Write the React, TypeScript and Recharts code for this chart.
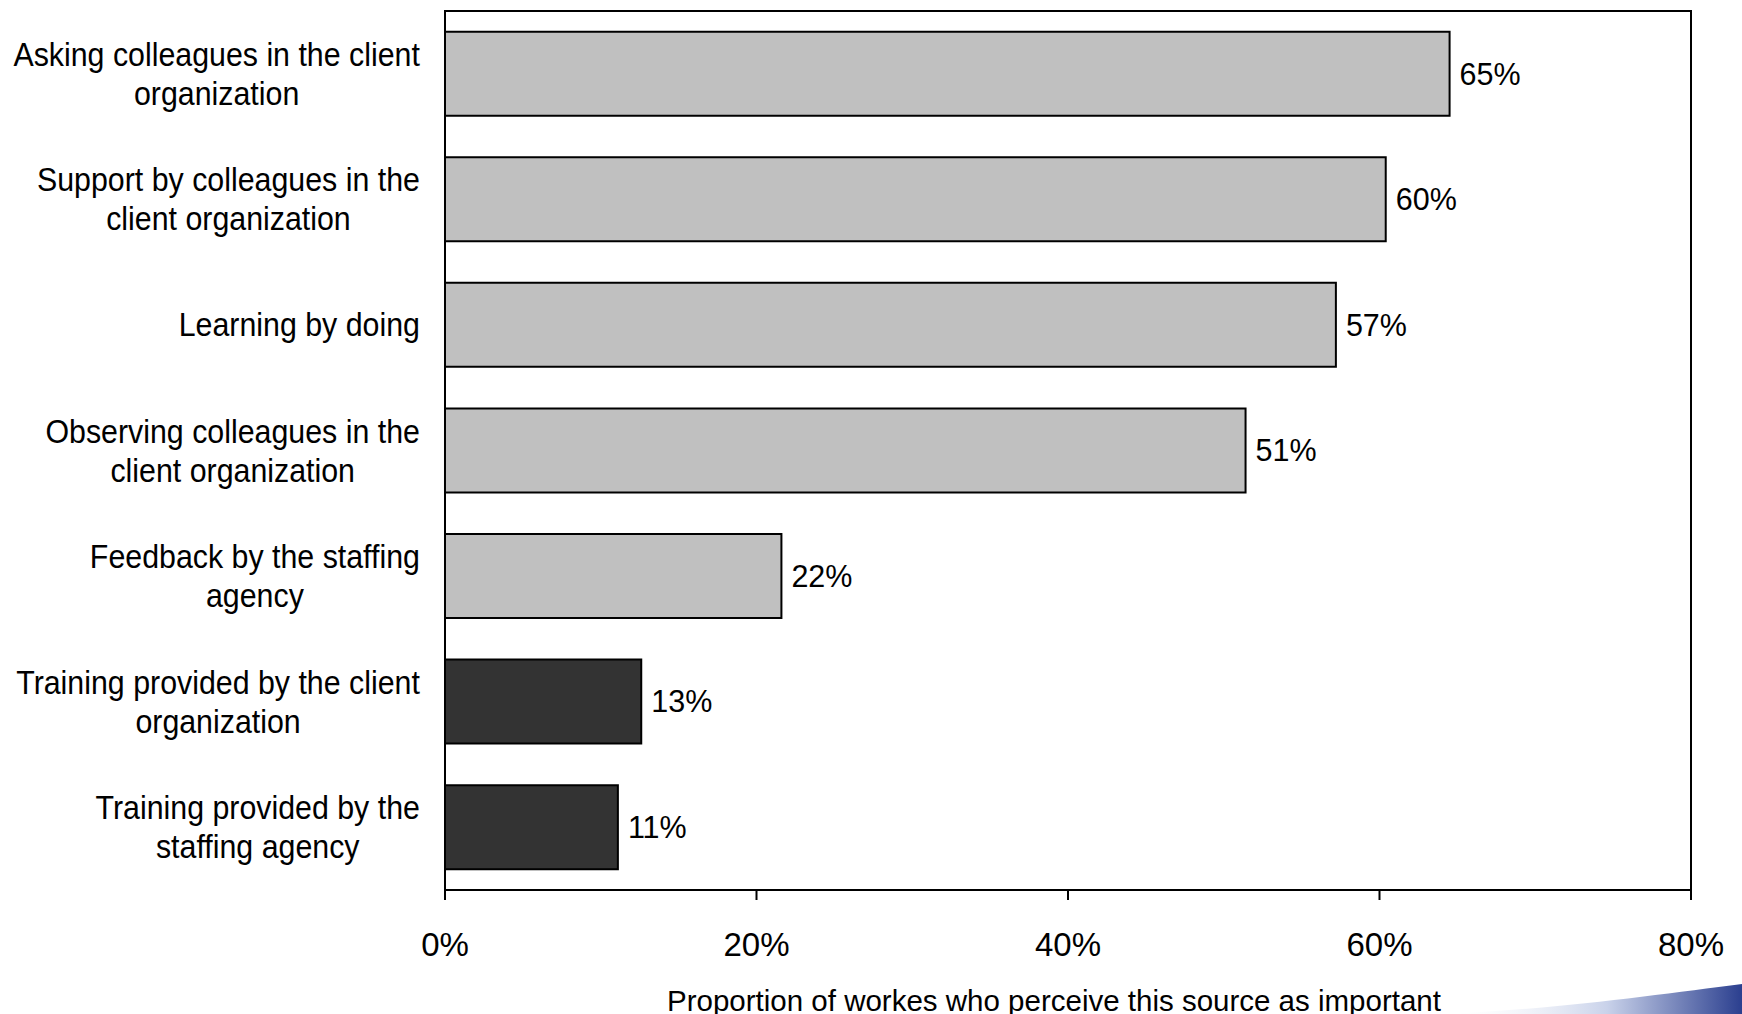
import React from "react";
import {
  BarChart,
  Bar,
  XAxis,
  YAxis,
  Cell,
  LabelList,
  ReferenceArea,
} from "recharts";

const categories = [
  "Asking colleagues in the client\norganization",
  "Support by colleagues in the\nclient organization",
  "Learning by doing",
  "Observing colleagues in the\nclient organization",
  "Feedback by the staffing\nagency",
  "Training provided by the client\norganization",
  "Training provided by the\nstaffing agency",
];
const shares = [64.5, 60.4, 57.2, 51.4, 21.6, 12.6, 11.1];
const formalTraining = [false, false, false, false, false, true, true];
const xTicks = [0, 20, 40, 60, 80];
const boundaryTicks = [0, 1, 2, 3, 4, 5, 6, 7];
const xTitle = "Proportion of workes who perceive this source as important";

const FONT = "'Liberation Sans', Arial, sans-serif";
const CAT_FS = 33;
const SQUEEZE = 0.92;

const data = categories.map((c, i) => ({ source: c, share: shares[i] }));

let measureCtx: CanvasRenderingContext2D | null = null;
function textWidth(s: string) {
  if (!measureCtx) measureCtx = document.createElement("canvas").getContext("2d");
  if (!measureCtx) return s.length * CAT_FS * 0.5;
  measureCtx.font = `${CAT_FS}px ${FONT}`;
  return measureCtx.measureText(s).width;
}

// multi-line label, lines centred on each other, block right-aligned to the axis
const CategoryTick = (props: any) => {
  const { x, y, payload } = props;
  const lines: string[] = String(payload.value).split("\n");
  const widest = Math.max(...lines.map(textWidth));
  const lh = 39;
  const y0 = y - ((lines.length - 1) * lh) / 2;
  return (
    <g transform={`translate(${x - 17},${y0}) scale(${SQUEEZE},1)`}>
      <text textAnchor="middle" fontFamily={FONT} fontSize={CAT_FS} fill="#000">
        {lines.map((l, i) => (
          <tspan key={i} x={-widest / 2} y={i * lh} dy="0.35em">
            {l}
          </tspan>
        ))}
      </text>
    </g>
  );
};

export default function App() {
  return (
    <div style={{ position: "absolute", left: 0, top: 0, width: 1742, height: 1014, background: "#fff", overflow: "hidden" }}>
      <BarChart
        width={1742}
        height={1014}
        data={data}
        layout="vertical"
        margin={{ top: 11, right: 51, left: 0, bottom: 0 }}
        barCategoryGap="16.5%"
      >
        <ReferenceArea x1={0} x2={80} fill="none" stroke="#000" strokeWidth={2} ifOverflow="visible" />
        <XAxis
          type="number"
          domain={[0, 80]}
          ticks={xTicks}
          tickFormatter={(v) => `${v}%`}
          height={124}
          tickSize={10}
          tickMargin={33}
          stroke="#000"
          strokeWidth={2}
          tick={{ fill: "#000", fontSize: 33, fontFamily: FONT }}
          label={{ value: xTitle, position: "insideBottom", offset: 3, dx: -14, fill: "#000", fontSize: 29.5, fontFamily: FONT }}
        />
        <YAxis
          yAxisId="bounds"
          type="number"
          orientation="left"
          domain={[0, 7]}
          ticks={boundaryTicks}
          tick={false}
          tickSize={10}
          width={0}
          stroke="#000"
          strokeWidth={2}
          allowDataOverflow
        />
        <YAxis
          type="category"
          dataKey="source"
          width={445}
          axisLine={false}
          tickLine={false}
          interval={0}
          tick={<CategoryTick />}
        />
        <Bar dataKey="share" stroke="#000" strokeWidth={2} isAnimationActive={false}>
          {data.map((_, i) => (
            <Cell key={i} fill={formalTraining[i] ? "#333333" : "#C0C0C0"} />
          ))}
          <LabelList
            dataKey="share"
            position="right"
            offset={10}
            formatter={(v: any) => `${Math.round(Number(v))}%`}
            style={{ fill: "#000", fontSize: 30.5, fontFamily: FONT }}
          />
        </Bar>
      </BarChart>
      <svg width={300} height={36} style={{ position: "absolute", right: 0, bottom: 0 }}>
        <defs>
          <linearGradient id="swoosh" x1="0" y1="0" x2="1" y2="0">
            <stop offset="0" stopColor="#ffffff" stopOpacity={0} />
            <stop offset="0.55" stopColor="#c9d2ea" />
            <stop offset="1" stopColor="#2b3f8f" />
          </linearGradient>
        </defs>
        <path d="M 0 36 C 120 31 220 16 300 6 L 300 36 Z" fill="url(#swoosh)" />
      </svg>
    </div>
  );
}
